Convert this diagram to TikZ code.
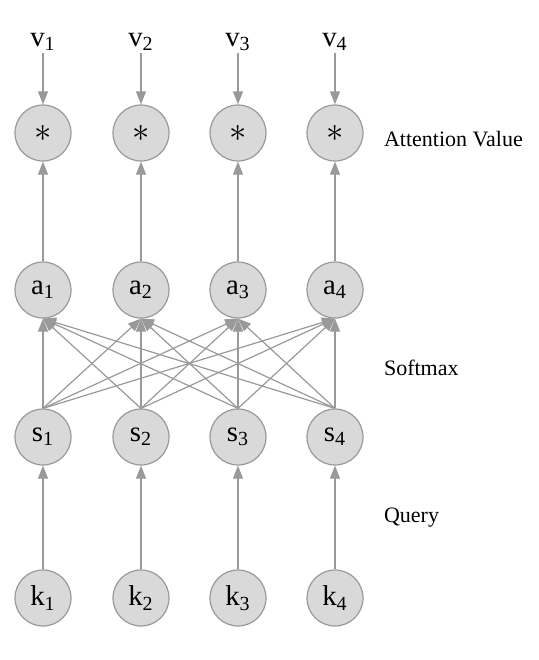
\documentclass[tikz,border=0pt]{standalone}
\usepackage{fontspec}
\setmainfont{Liberation Serif}
\usetikzlibrary{arrows.meta, positioning}
\tikzset{
	unit/.style = {circle, draw=black!40, fill=black!15, line width=0.6pt, minimum size=28pt, inner sep=0pt, font=\Large},
	conn/.style = {draw=black!40, line width=0.6pt, -{Triangle[length=6.5pt, width=5pt]}},
	caption/.style = {anchor=west, font=\fontsize{11}{13}\selectfont}
}

\begin{document}
\begin{tikzpicture}[x=0.5pt, y=-0.5pt]
	\useasboundingbox (0,0) rectangle (539,660);
	% ====== Units ========
	\foreach \i/\px in {1/43, 2/141, 3/238, 4/335} {
		\node[unit] (k\i) at (\px,598) {k\textsubscript{\i}};
		\node[unit] (s\i) at (\px,437) {s\textsubscript{\i}};
		\node[unit] (a\i) at (\px,290) {a\textsubscript{\i}};
		\node[unit] (m\i) at (\px,133) {\LARGE$\ast$};
		\node[font=\Large, inner sep=1pt] (v\i) at (\px,42) {v\textsubscript{\i}};
	}
	% ====== Connections ========
	\foreach \i in {1,...,4} {
		\draw[conn] (k\i) -- (s\i);
		\draw[conn] (a\i) -- (m\i);
		\draw[conn] (v\i) -- (m\i);
		\foreach \j in {1,...,4} {\draw[conn] (s\i.north) -- (a\j.south);}
	}
	% ====== Captions ========
	\node[caption] (attn) at (377,139) {Attention Value};
	\node[caption] (soft) at (377,368) {Softmax};
	\node[caption] (query) at (377,518) {Query};
\end{tikzpicture}
\end{document}
